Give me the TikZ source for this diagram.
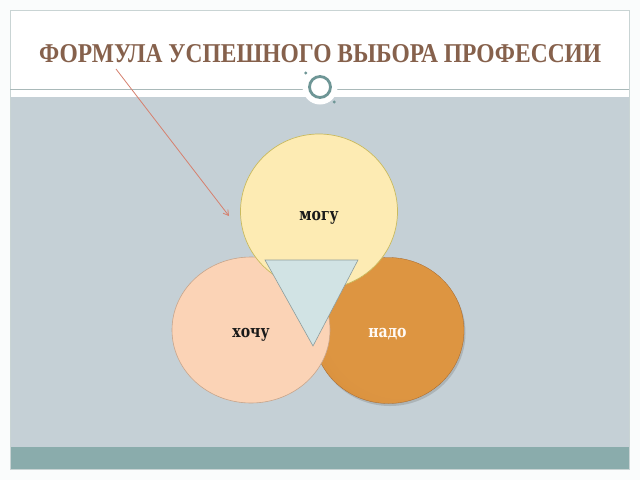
\documentclass[tikz,border=0pt]{standalone}
\usepackage{fontspec}
\setmainfont{DejaVu Serif}
\newfontfamily\titlefont{Liberation Serif}
\usetikzlibrary{shapes.geometric,arrows.meta,shadows}
\definecolor{pagebg}{HTML}{FAFCFC}
\definecolor{framecol}{HTML}{C9D4D4}
\definecolor{slategray}{HTML}{C5D0D6}
\definecolor{tealband}{HTML}{8AACAC}
\definecolor{rulecol}{HTML}{A9B9B9}
\definecolor{ringcol}{HTML}{6E9696}
\definecolor{titlecol}{HTML}{86614C}
\definecolor{arrowcol}{HTML}{D6806E}
\definecolor{yellowfill}{HTML}{FDEBB3}
\definecolor{yellowline}{HTML}{C9BA5E}
\definecolor{pinkfill}{HTML}{FBD3B6}
\definecolor{pinkline}{HTML}{C7A58C}
\definecolor{orangein}{HTML}{DD9541}
\definecolor{orangemid}{HTML}{D38B3C}
\definecolor{orangeout}{HTML}{B8732F}
\definecolor{orangerim}{HTML}{A56427}
\definecolor{trifill}{HTML}{D1E3E4}
\definecolor{triline}{HTML}{8D9D9D}
\pgfdeclareradialshading{softradial}{\pgfpoint{8bp}{6bp}}{%
  color(0bp)=(orangein); color(26bp)=(orangein); color(46bp)=(orangemid); color(60bp)=(orangeout); color(66bp)=(orangerim)}
\newcommand{\lbltext}[1]{\scalebox{0.94}[1.15]{#1}}
\tikzset{
  disc/.style={ellipse, inner sep=0pt},
  lbl/.style={anchor=base, inner sep=0pt, font=\fontsize{15}{18}\selectfont\bfseries},
  ringstyle/.style={draw=ringcol, line width=2.8pt},
  dotstyle/.style={fill=ringcol},
}
\begin{document}
\begin{tikzpicture}[x=1pt,y=-1pt]
\useasboundingbox (0,0) rectangle (640,480);
\fill[pagebg] (0,0) rectangle (640,480);
\fill[white] (10,10) rectangle (629,97);
\fill[slategray] (10,97) rectangle (629,447);
\fill[tealband] (10,447) rectangle (629,469);
\draw[framecol, line width=0.8pt] (10,10) rectangle (629,469);
\draw[rulecol, line width=0.8pt] (10,89.5) -- (629,89.5);
% ring ornament
\fill[white] (320,87) circle (17.5);
\node[circle, ringstyle, minimum size=21pt, inner sep=0pt] (ring) at (320,87) {};
\node[circle, dotstyle, minimum size=3.2pt, inner sep=0pt] (dotA) at (305.7,73) {};
\node[circle, dotstyle, minimum size=3.2pt, inner sep=0pt] (dotB) at (334.3,102) {};
% title
\node[anchor=base west, inner sep=0pt, text=titlecol] (title) at (39,62)
  {\resizebox{562pt}{18pt}{\titlefont\bfseries ФОРМУЛА УСПЕШНОГО ВЫБОРА ПРОФЕССИИ}};
% arrow
\coordinate (arrA) at (116,69);
\coordinate (arrB) at (229,216);
\draw[arrowcol, line width=0.8pt, -{Straight Barb[length=5pt,width=6pt]}] (arrA) -- (arrB);
% circles
\node[disc, shading=softradial, minimum width=151pt, minimum height=146pt,
      draw=orangerim, line width=0.3pt,
      drop shadow={shadow xshift=1.5pt, shadow yshift=-2.5pt, opacity=0.35}] (nado) at (388.5,330.5) {};
\node[disc, fill=pinkfill, draw=pinkline, line width=0.6pt,
      minimum width=158pt, minimum height=146pt] (hochu) at (251,330) {};
\node[disc, fill=yellowfill, draw=yellowline, line width=0.7pt,
      minimum width=157pt, minimum height=155pt] (mogu) at (319,211.5) {};
% triangle
\coordinate (triA) at (265,260);
\coordinate (triB) at (358,260);
\coordinate (triC) at (313,346);
\draw[triline, fill=trifill, line width=0.6pt, line join=miter] (triA) -- (triB) -- (triC) -- cycle;
% labels
\node[lbl, text=black!90] (moguL) at (319,220) {\lbltext{могу}};
\node[lbl, text=black!90] (hochuL) at (251,337.5) {\lbltext{хочу}};
\node[lbl, text=white!96!orange] (nadoL) at (387.5,337) {\lbltext{надо}};
\end{tikzpicture}
\end{document}
